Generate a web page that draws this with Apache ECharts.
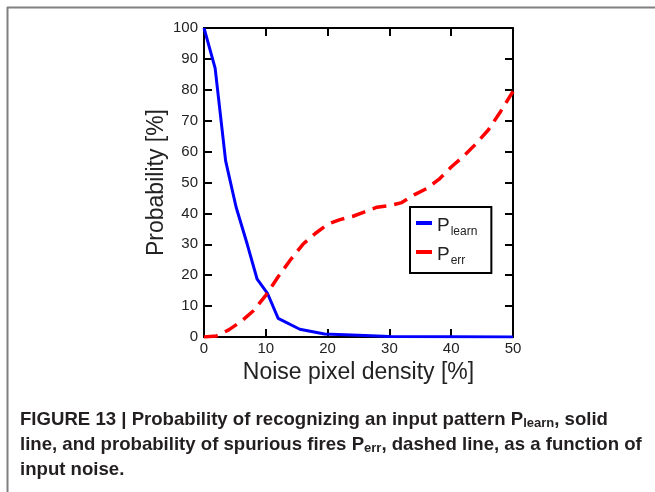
<!DOCTYPE html>
<html><head><meta charset="utf-8">
<script src="https://cdn.jsdelivr.net/npm/echarts@6/dist/echarts.min.js"></script>
<style>html,body{margin:0;padding:0;background:#fff}#c{width:655px;height:492px}</style>
</head><body><div id="c"></div>
<script>
const learnX = [0, 1.8, 3.5, 5.2, 7.0, 8.6, 10.3, 12.0, 15.5, 19.5, 25, 30, 40, 50];
const learnY = [100, 87, 57, 42, 30, 18.7, 14, 6, 2.5, 1, 0.6, 0.2, 0.1, 0];
const errX = [0, 2, 4, 6, 8, 10, 12, 14, 16, 18, 20, 22, 24, 26, 28, 30, 32, 34, 36, 38, 40, 42, 44, 46, 48, 50];
const errY = [0, 0.3, 2.3, 5, 8.5, 13.5, 19.5, 25, 30, 33.5, 36.5, 38, 39, 40.5, 42, 42.5, 43.5, 46, 48, 51, 55, 58.5, 62.5, 67, 73, 79.5];
const xTicks = [0, 10, 20, 30, 40, 50];
const yTicks = [0, 10, 20, 30, 40, 50, 60, 70, 80, 90, 100];

const chart = echarts.init(document.getElementById('c'));
const FF = 'Liberation Sans, Arial, sans-serif';
const tickStyle = {show: true, inside: true, length: 8, lineStyle: {color: '#000', width: 2}};
const lineStyle = {show: true, onZero: false, lineStyle: {color: '#000', width: 2}};
chart.setOption({
  animation: false,
  grid: {left: 204, right: 142, top: 28, bottom: 155, containLabel: false},
  xAxis: [{
    type: 'value', min: 0, max: 50, interval: 10,
    axisLine: lineStyle, axisTick: tickStyle, splitLine: {show: false},
    axisLabel: {color: '#222', fontSize: 15, fontFamily: FF, margin: 4,
      formatter: v => xTicks.includes(v) ? String(v) : ''},
    name: 'Noise pixel density [%]', nameLocation: 'middle', nameGap: 18,
    nameTextStyle: {fontSize: 23, color: '#222', fontFamily: FF, verticalAlign: 'top'}
  }, {
    type: 'value', min: 0, max: 50, interval: 10, position: 'top',
    axisLine: lineStyle, axisTick: tickStyle, axisLabel: {show: false}, splitLine: {show: false}
  }],
  yAxis: [{
    type: 'value', min: 0, max: 100, interval: 10,
    axisLine: lineStyle, axisTick: tickStyle, splitLine: {show: false},
    axisLabel: {color: '#222', fontSize: 15, fontFamily: FF, margin: 6,
      formatter: v => yTicks.includes(v) ? String(v) : ''},
    name: 'Probability [%]', nameLocation: 'middle', nameGap: 36, nameRotate: 90,
    nameTextStyle: {fontSize: 23, color: '#222', fontFamily: FF}
  }, {
    type: 'value', min: 0, max: 100, interval: 10, position: 'right',
    axisLine: lineStyle, axisTick: tickStyle, axisLabel: {show: false}, splitLine: {show: false}
  }],
  legend: {
    orient: 'vertical', left: 410, top: 207, width: 80,
    padding: [9, 14, 6, 6], itemGap: 7,
    borderColor: '#000', borderWidth: 2, backgroundColor: '#fff',
    icon: 'rect', itemWidth: 16, itemHeight: 4,
    data: ['learn', 'err'],
    formatter: n => '{p|P}{s|' + n + '}',
    textStyle: {
      fontFamily: FF, color: '#222',
      rich: {
        p: {fontSize: 19, lineHeight: 24, verticalAlign: 'bottom', fontFamily: FF, color: '#222'},
        s: {fontSize: 12, lineHeight: 12, verticalAlign: 'bottom', fontFamily: FF, color: '#222', padding: [0,0,-3,1]}
      }
    }
  },
  series: [{
    name: 'learn', type: 'line', showSymbol: false, symbol: 'none',
    data: learnX.map((x, i) => [x, learnY[i]]),
    lineStyle: {color: '#0000ff', width: 3}, itemStyle: {color: '#0000ff'}
  }, {
    name: 'err', type: 'line', showSymbol: false, symbol: 'none',
    data: errX.map((x, i) => [x, errY[i]]),
    lineStyle: {color: '#ff0000', width: 3.5, type: [14, 8]}, itemStyle: {color: '#ff0000'}
  }],
  graphic: [
    {type: 'line', shape: {x1: 7, y1: 7.5, x2: 655, y2: 7.5}, style: {stroke: '#808080', lineWidth: 2}},
    {type: 'line', shape: {x1: 7.5, y1: 7, x2: 7.5, y2: 492}, style: {stroke: '#808080', lineWidth: 2}},
    {type: 'text', left: 20, top: 410, style: {
      text: '{b|FIGURE 13 | Probability of recognizing an input pattern P}{s|learn}{b|, solid}\n' +
            '{b|line, and probability of spurious fires P}{s|err}{b|, dashed line, as a function of}\n' +
            '{b|input noise.}',
      rich: {
        b: {fontSize: 18.6, fontWeight: 'bold', fontFamily: FF, fill: '#231f20', lineHeight: 25, verticalAlign: 'bottom'},
        s: {fontSize: 13, fontWeight: 'bold', fontFamily: FF, fill: '#231f20', lineHeight: 13, verticalAlign: 'bottom', padding: [0,0,-1,0]}
      }
    }}
  ]
});
</script></body></html>
